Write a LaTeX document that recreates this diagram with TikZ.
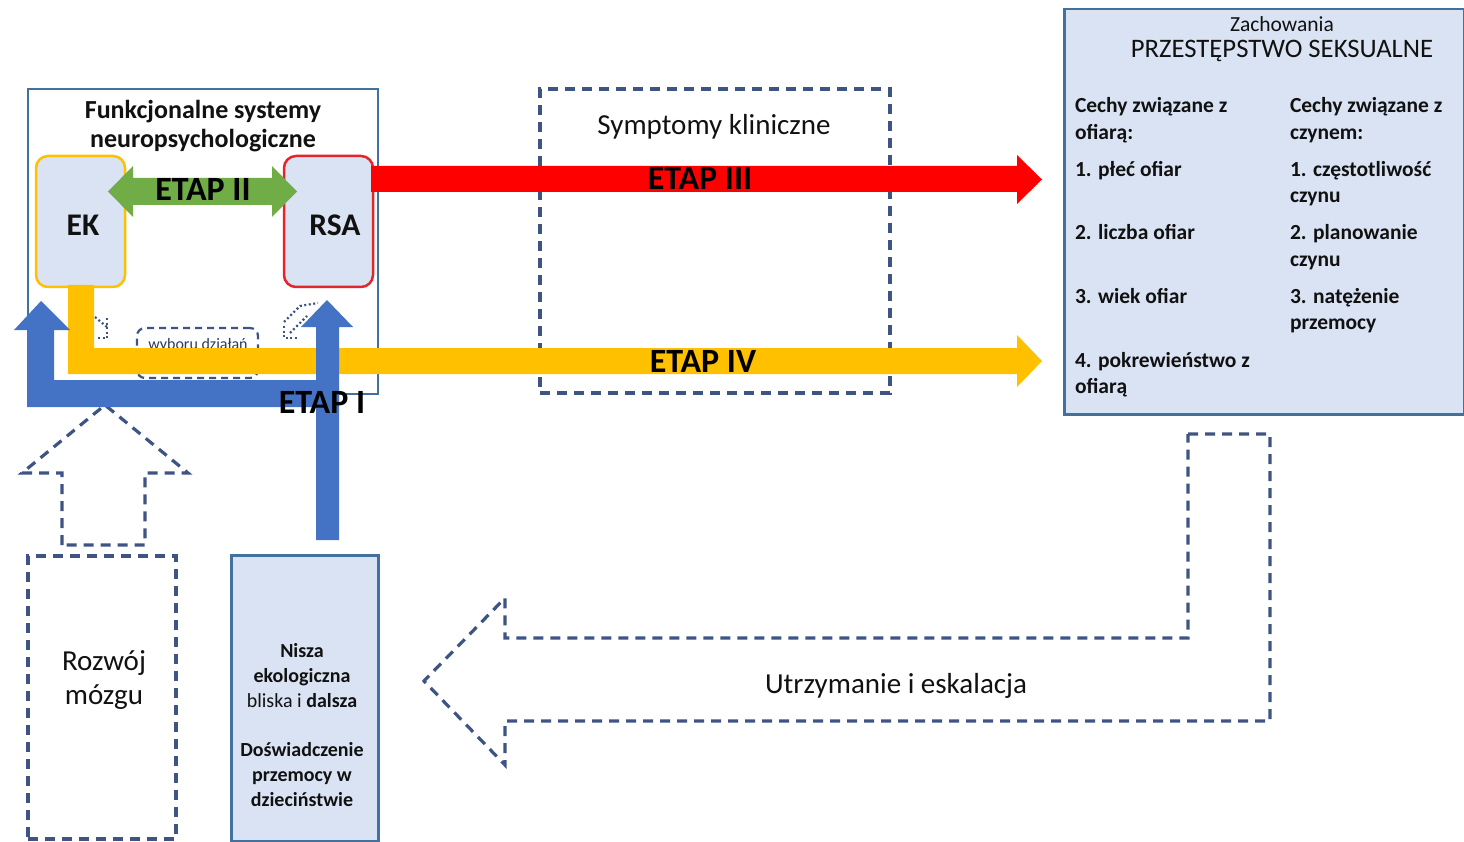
\documentclass[tikz,border=0pt]{standalone}
\usepackage{fontspec}
\setmainfont{Carlito}
\definecolor{boxfill}{HTML}{DAE3F3}
\definecolor{boxline}{HTML}{41719C}
\definecolor{dashblue}{HTML}{3E5583}
\definecolor{ekyellow}{HTML}{FFC000}
\definecolor{rsared}{HTML}{E3262B}
\definecolor{arrred}{HTML}{FF0000}
\definecolor{arrgreen}{HTML}{70AD47}
\definecolor{arrblue}{HTML}{4472C4}
\definecolor{txt}{HTML}{111111}
\begin{document}
\begin{tikzpicture}[x=1pt,y=-1pt,
  dashbox/.style={draw=dashblue, line width=3.2pt, dash pattern=on 10pt off 7pt},
  dotline/.style={draw=dashblue, line width=2.2pt, dash pattern=on 2pt off 2.5pt},
  solidbox/.style={draw=boxline, line width=2.5pt, fill=boxfill, inner sep=0pt},
  blank/.style={inner sep=0pt, outer sep=0pt},
  plain/.style={inner sep=0pt, outer sep=0pt, text=txt},
  etap/.style={plain, font=\fontsize{34}{38}\selectfont\bfseries, text=black},
  big/.style={plain, font=\fontsize{31.5}{36}\selectfont\bfseries},
  item/.style={plain, anchor=base west, font=\fontsize{21.5}{24}\selectfont\bfseries},
  reg/.style={plain, font=\fontsize{29}{34}\selectfont}]
\useasboundingbox (0,0) rectangle (1464,842);

% ---------- boxes ----------
\node[draw=boxline, line width=2.5pt, fill=white, blank, minimum width=350pt, minimum height=305pt, anchor=north west] (fs) at (28,89) {};
\node[plain, anchor=base, font=\fontsize{26}{30}\selectfont\bfseries] (fst1) at (203,119) {Funkcjonalne systemy};
\node[plain, anchor=base, font=\fontsize{26}{30}\selectfont\bfseries] (fst2) at (203,148) {neuropsychologiczne};

\node[draw=ekyellow, line width=2.5pt, fill=boxfill, rounded corners=12pt, blank, minimum width=89pt, minimum height=131pt, anchor=north west] (ek) at (36,156) {};
\node[big, anchor=base] (eklbl) at (83,236) {EK};
\node[draw=rsared, line width=2.5pt, fill=boxfill, rounded corners=12pt, blank, minimum width=89pt, minimum height=131pt, anchor=north west] (rsa) at (284,156) {};
\node[big, anchor=base] (rsalbl) at (335,236) {RSA};

\node[draw=dashblue, line width=2.2pt, dash pattern=on 7pt off 5pt, rounded corners=8pt, blank, minimum width=121pt, minimum height=50pt, anchor=north west] (wd) at (137,328) {};
\node[plain, anchor=base, text=dashblue!70!black, font=\fontsize{16}{18}\selectfont] (wdlbl) at (198,349) {wyboru działań};

% small dotted arrows
\draw[dotline] (95,317) -- (107,327);
\draw[dotline] (107,318) -- (107,338) -- (97,338);
\draw[dotline] (284,322) -- (300,306) -- (318,303);
\draw[dotline] (284,326) -- (284,338) -- (297,338);
\draw[dotline] (290,333) -- (307,316);

\node[dashbox, blank, minimum width=350pt, minimum height=304pt, anchor=north west] (sk) at (540,89) {};
\node[reg, anchor=base] (sklbl) at (714,135) {Symptomy kliniczne};

% right box
\node[solidbox, minimum width=400pt, minimum height=405pt, anchor=north west] (zach) at (1063,8) {};
\node[plain, anchor=base, font=\fontsize{21.5}{24}\selectfont] (z1) at (1282,32) {Zachowania};
\node[plain, anchor=base, font=\fontsize{26.7}{30}\selectfont] (z2) at (1282,58) {PRZESTĘPSTWO SEKSUALNE};
\node[item] (l1) at (1075,113) {Cechy związane z};
\node[item] (l2) at (1075,140) {ofiarą:};
\node[item] (l3) at (1075,177) {1. płeć ofiar};
\node[item] (l4) at (1075,240) {2. liczba ofiar};
\node[item] (l5) at (1075,304) {3. wiek ofiar};
\node[item] (l6) at (1075,367) {4. pokrewieństwo z};
\node[item] (l7) at (1075,393) {ofiarą};
\node[item] (r1) at (1290,113) {Cechy związane z};
\node[item] (r2) at (1290,140) {czynem:};
\node[item] (r3) at (1290,177) {1. częstotliwość};
\node[item] (r4) at (1290,203) {czynu};
\node[item] (r5) at (1290,240) {2. planowanie};
\node[item] (r6) at (1290,267) {czynu};
\node[item] (r7) at (1290,304) {3. natężenie};
\node[item] (r8) at (1290,330) {przemocy};

% bottom boxes
\node[dashbox, blank, minimum width=148pt, minimum height=283pt, anchor=north west] (rm) at (28,556) {};
\node[reg, anchor=base] (rm1) at (104,670) {Rozwój};
\node[reg, anchor=base] (rm2) at (104,704) {mózgu};

\node[solidbox, minimum width=147pt, minimum height=286pt, anchor=north west] (ni) at (230,554) {};
\node[plain, align=center, font=\fontsize{20}{25}\selectfont\bfseries] (nilbl) at (302,725)
  {Nisza\\ekologiczna\\{\mdseries bliska i} dalsza\\[24pt]Doświadczenie\\przemocy w\\dzieciństwie};

% dashed block arrows
\draw[dashbox] (62,545) -- (62,473) -- (22,473) -- (105,405) -- (188,473) -- (145,473) -- (145,545) -- cycle;
\draw[dashbox] (1188,434) -- (1270,434) -- (1270,721) -- (505,721) -- (505,765) -- (424,681) -- (505,598) -- (505,638) -- (1188,638) -- cycle;
\node[reg, anchor=base] (ut) at (896,693) {Utrzymanie i eskalacja};

% ---------- coloured arrows ----------
\fill[arrgreen] (108,191.5) -- (133,166) -- (133,178) -- (272,178) -- (272,166) -- (297,191.5) -- (272,217) -- (272,205) -- (133,205) -- (133,217) -- cycle;
\node[etap, anchor=base] (e2) at (203,201) {ETAP II};

\fill[arrred] (371,166) -- (1017,166) -- (1017,155) -- (1042,179.5) -- (1017,204) -- (1017,192) -- (371,192) -- cycle;
\node[etap, anchor=base] (e3) at (700,190) {ETAP III};

\fill[ekyellow] (68,285) -- (94,285) -- (94,348) -- (1017,348) -- (1017,335) -- (1042,361) -- (1017,387) -- (1017,374) -- (68,374) -- cycle;
\node[etap, anchor=base] (e4) at (703,372) {ETAP IV};

\fill[arrblue] (316,540) -- (316,407) -- (27,407) -- (27,330) -- (14,330) -- (41,301) -- (70,330) -- (54,330) -- (54,380) -- (316,380) -- (316,327) -- (301,327) -- (327,300) -- (353,327) -- (339,327) -- (339,540) -- cycle;
\node[etap, anchor=base] (e1) at (322,413) {ETAP I};
\end{tikzpicture}
\end{document}
